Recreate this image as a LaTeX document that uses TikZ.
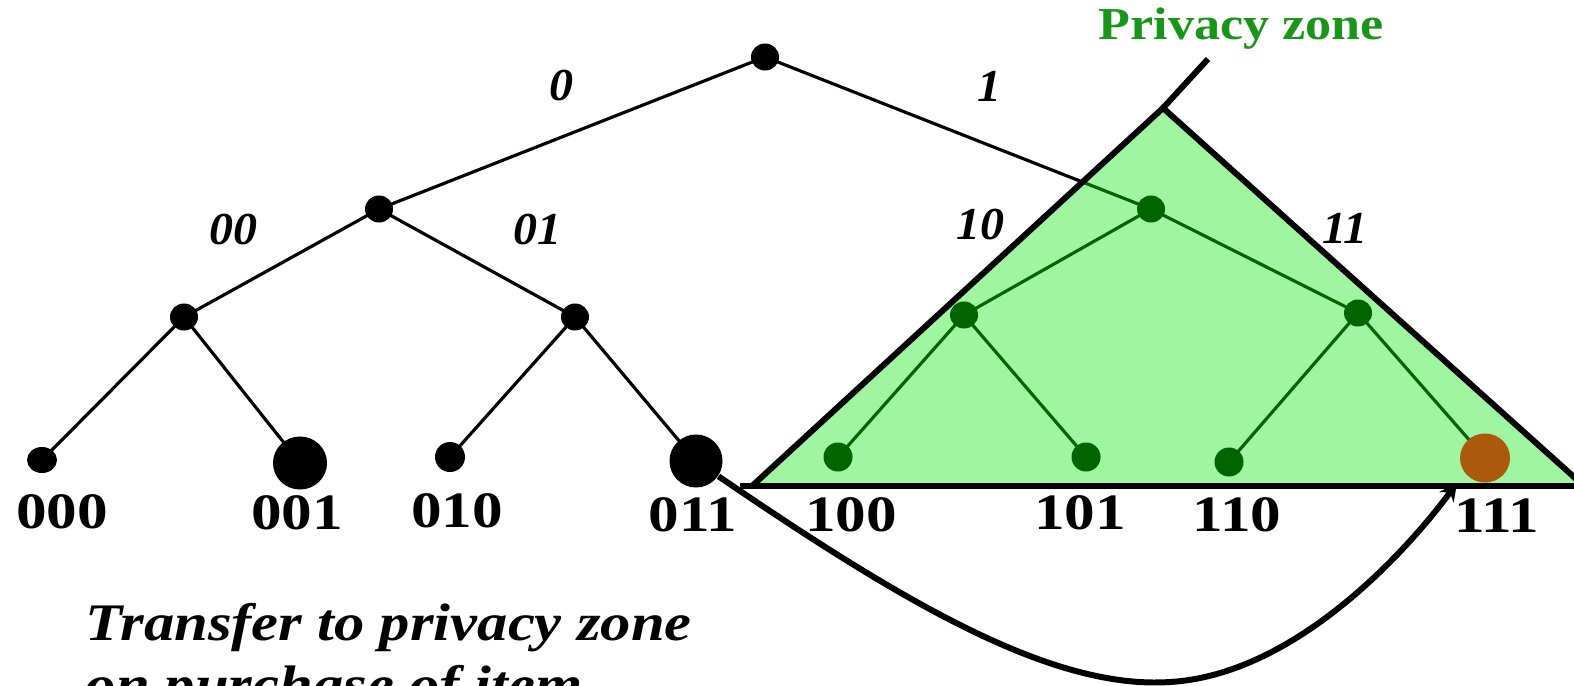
\documentclass[tikz,border=0pt]{standalone}
\usepackage{fontspec}
\setmainfont{Liberation Serif}
\usetikzlibrary{shapes.geometric,arrows.meta}
\definecolor{zonefill}{RGB}{160,245,160}
\definecolor{dkgreen}{RGB}{0,100,0}
\definecolor{zonetext}{RGB}{25,150,25}
\definecolor{brownleaf}{RGB}{170,90,10}
\newcommand{\hs}[2]{\scalebox{#1}[1]{#2}}
\tikzset{
  treeedge/.style={line width=0.9pt, black},
  greenedge/.style={line width=0.9pt, dkgreen},
  dotnode/.style={ellipse, fill=black, inner sep=0pt, minimum width=0.28cm, minimum height=0.27cm},
  bigdot/.style={dotnode, minimum width=0.53cm, minimum height=0.53cm},
  greendot/.style={dotnode, fill=dkgreen, minimum width=0.29cm, minimum height=0.29cm},
  browndot/.style={dotnode, fill=brownleaf, minimum width=0.50cm, minimum height=0.49cm},
  leaflbl/.style={font=\fontsize{14.5}{16}\selectfont\bfseries, inner sep=0pt},
  edgelbl/.style={font=\fontsize{13}{15}\selectfont\bfseries\itshape, inner sep=0pt},
  zoneline/.style={line width=1.7pt, black},
  movecurve/.style={line width=1.7pt, black, -{Stealth[length=5pt,width=5pt]}},
}
\begin{document}
\begin{tikzpicture}[x=0.01cm, y=-0.01cm]
\clip (0,0) rectangle (1574,685);
\fill[white] (0,0) rectangle (1574,685);

% node positions
\coordinate (root) at (765,57);
\coordinate (n0) at (379,209);
\coordinate (n1) at (1151,209);
\coordinate (n00) at (184,317);
\coordinate (n01) at (575,317);
\coordinate (n10) at (964,315);
\coordinate (n11) at (1358,313);
\coordinate (c000) at (42,460);
\coordinate (c001) at (300,463);
\coordinate (c010) at (450,457);
\coordinate (c011) at (696,461);
\coordinate (c100) at (838,457);
\coordinate (c101) at (1086,457);
\coordinate (c110) at (1229,462);
\coordinate (c111) at (1485,458);

% triangle corners
\coordinate (tl) at (752,486);
\coordinate (ta) at (1163,108);
\coordinate (tr) at (1584,486);
\coordinate (tx) at (1208,59);
\coordinate (bl) at (740,486);
\coordinate (br) at (1574,486);

% black edges
\draw[treeedge] (root) -- (n0);
\draw[treeedge] (root) -- (n1);
\draw[treeedge] (n0) -- (n00);
\draw[treeedge] (n0) -- (n01);
\draw[treeedge] (n00) -- (c000);
\draw[treeedge] (n00) -- (c001);
\draw[treeedge] (n01) -- (c010);
\draw[treeedge] (n01) -- (c011);

% privacy zone
\fill[zonefill] (tl) -- (ta) -- (tr) -- cycle;
\begin{scope}
  \clip (tl) -- (ta) -- (tr) -- cycle;
  \draw[greenedge] (root) -- (n1);
  \draw[greenedge] (n1) -- (n10);
  \draw[greenedge] (n1) -- (n11);
  \draw[greenedge] (n10) -- (c100);
  \draw[greenedge] (n10) -- (c101);
  \draw[greenedge] (n11) -- (c110);
  \draw[greenedge] (n11) -- (c111);
\end{scope}
\draw[zoneline] (tl) -- (ta) -- (tr);
\draw[zoneline] (ta) -- (tx);
\draw[zoneline] (bl) -- (br);

% dots
\node[dotnode] (droot) at (root) {};
\node[dotnode] (dn0) at (n0) {};
\node[greendot, minimum width=0.28cm, minimum height=0.27cm] (dn1) at (n1) {};
\node[dotnode] (dn00) at (n00) {};
\node[dotnode] (dn01) at (n01) {};
\node[greendot, minimum width=0.28cm, minimum height=0.27cm] (dn10) at (n10) {};
\node[greendot, minimum width=0.28cm, minimum height=0.27cm] (dn11) at (n11) {};
\node[dotnode, minimum width=0.30cm, minimum height=0.26cm] (d000) at (c000) {};
\node[bigdot, minimum width=0.54cm] (d001) at (c001) {};
\node[dotnode, minimum width=0.30cm, minimum height=0.30cm] (d010) at (c010) {};
\node[bigdot] (d011) at (c011) {};
\node[greendot] (d100) at (c100) {};
\node[greendot] (d101) at (c101) {};
\node[greendot] (d110) at (c110) {};
\node[browndot] (d111) at (c111) {};

% transfer curve
\coordinate (tip) at (1457,483);
\draw[movecurve] (d011) .. controls (900,600) and (1050,690) .. (1170,682)
                 .. controls (1290,675) and (1400,560) .. (tip);

% edge labels
\node[edgelbl] (e0) at (561,86) {\hs{1.05}{0}};
\node[edgelbl] (e1) at (989,86) {\hs{1.05}{1}};
\node[edgelbl] (e00) at (233,230) {\hs{1.05}{00}};
\node[edgelbl] (e01) at (537,230) {\hs{1.05}{01}};
\node[edgelbl] (e10) at (980,225) {\hs{1.05}{10}};
\node[edgelbl] (e11) at (1345,228) {\hs{1.05}{11}};

% leaf labels
\node[leaflbl] (t000) at (62,512) {\hs{1.2}{000}};
\node[leaflbl] (t001) at (297,513) {\hs{1.2}{001}};
\node[leaflbl] (t010) at (457,511) {\hs{1.2}{010}};
\node[leaflbl] (t011) at (693,515) {\hs{1.2}{011}};
\node[leaflbl] (t100) at (851,515) {\hs{1.2}{100}};
\node[leaflbl] (t101) at (1080,513) {\hs{1.2}{101}};
\node[leaflbl] (t110) at (1237,515) {\hs{1.2}{110}};
\node[leaflbl] (t111) at (1497,516) {\hs{1.2}{111}};

% titles
\node[anchor=base west, inner sep=0pt, text=zonetext,
      font=\fontsize{13}{15}\selectfont\bfseries] (zone) at (1098,40) {\hs{1.14}{Privacy zone}};
\node[anchor=base west, inner sep=0pt, align=left,
      font=\fontsize{15}{17.4}\selectfont\bfseries\itshape] (transfer) at (85,702)
      {\hs{1.15}{Transfer to privacy zone}\\\hs{1.15}{on purchase of item}};
\end{tikzpicture}
\end{document}
